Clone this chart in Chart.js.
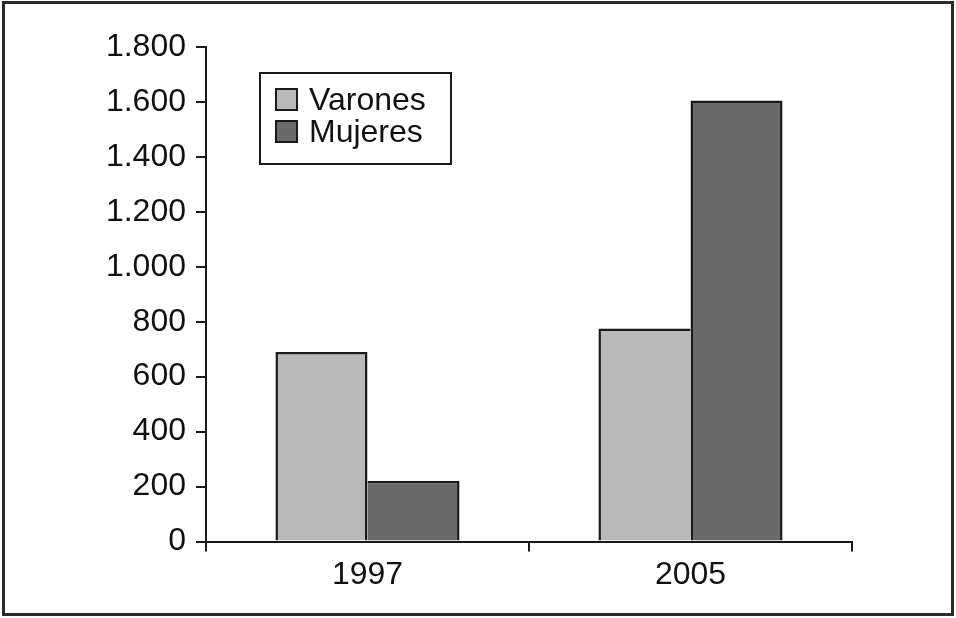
<!DOCTYPE html>
<html>
<head>
<meta charset="utf-8">
<script src="https://cdn.jsdelivr.net/npm/chart.js@4.4.0/dist/chart.umd.min.js"></script>
<style>
    html, body { margin: 0; padding: 0; background: #fff; }
    #wrap { width: 956px; height: 618px; position: relative; }
</style>
</head>
<body>
<div id="wrap"><canvas id="grafico"></canvas></div>
<script>
// datos
const anios = ['1997', '2005'];
const varones = [690, 775];
const mujeres = [220, 1605];
const ejeMax = 1800;
const ejePaso = 200;

const FUENTE = '"Liberation Sans", Arial, sans-serif';
const colores = {
    varones: '#b9b9b9',
    mujeres: '#6a6a6a',
    linea: '#1a1a1a'
};
const GROSOR = 2.5;

function miles(v) {
    return String(v).replace(/\B(?=(\d{3})+(?!\d))/g, '.');
}

// las barras vecinas comparten un solo borde: lo dibuja la mas alta
function bordeVarones(c) {
    const i = c.dataIndex;
    const propio = varones[i] >= mujeres[i];
    return { top: GROSOR, left: GROSOR, right: propio ? GROSOR : 0, bottom: 0 };
}
function bordeMujeres(c) {
    const i = c.dataIndex;
    const propio = mujeres[i] > varones[i];
    return { top: GROSOR, left: propio ? GROSOR : 0, right: GROSOR, bottom: 0 };
}

// marco exterior y leyenda dibujada a mano
const marcoYLeyenda = {
    id: 'marcoYLeyenda',
    afterDraw(chart) {
        const ctx = chart.ctx;
        ctx.save();
        ctx.strokeStyle = '#2a2a2a';
        ctx.lineWidth = 3;
        ctx.strokeRect(3.5, 2.5, 949, 612);

        ctx.lineWidth = 2;
        ctx.strokeStyle = colores.linea;
        ctx.strokeRect(260, 73, 191, 91);

        ctx.font = '32px ' + FUENTE;
        ctx.textBaseline = 'alphabetic';
        chart.data.datasets.forEach((ds, i) => {
            const y = 89 + i * 32;
            ctx.fillStyle = ds.backgroundColor;
            ctx.fillRect(276, y, 21, 21);
            ctx.lineWidth = 2;
            ctx.strokeRect(276, y, 21, 21);
            ctx.fillStyle = '#111';
            ctx.fillText(ds.label, 309, y + 21);
        });
        ctx.restore();
    }
};

const ctx = document.getElementById('grafico');
new Chart(ctx, {
    type: 'bar',
    data: {
        labels: anios,
        datasets: [{
            label: 'Varones',
            data: varones,
            backgroundColor: colores.varones,
            borderColor: colores.linea,
            borderWidth: bordeVarones,
            borderSkipped: false
        }, {
            label: 'Mujeres',
            data: mujeres,
            backgroundColor: colores.mujeres,
            borderColor: colores.linea,
            borderWidth: bordeMujeres,
            borderSkipped: false
        }]
    },
    options: {
        responsive: true,
        maintainAspectRatio: false,
        animation: false,
        layout: {
            padding: { left: 0, right: 104, top: 47, bottom: 0 }
        },
        datasets: {
            bar: { categoryPercentage: 0.57, barPercentage: 1 }
        },
        scales: {
            x: {
                grid: {
                    offset: true,
                    drawOnChartArea: false,
                    drawTicks: true,
                    tickLength: 10,
                    color: colores.linea,
                    lineWidth: 2
                },
                border: { display: true, color: colores.linea, width: 2 },
                ticks: {
                    color: '#111',
                    padding: 4,
                    font: { family: FUENTE, size: 32 }
                },
                afterFit(scale) { scale.height = 76.5; }
            },
            y: {
                min: 0,
                max: ejeMax,
                grid: {
                    drawOnChartArea: false,
                    drawTicks: true,
                    tickLength: 10,
                    color: colores.linea,
                    lineWidth: 2
                },
                border: { display: true, color: colores.linea, width: 2 },
                ticks: {
                    stepSize: ejePaso,
                    color: '#111',
                    padding: 10,
                    font: { family: FUENTE, size: 32 },
                    callback: (v) => miles(v)
                },
                afterFit(scale) { scale.width = 206; }
            }
        },
        plugins: {
            legend: { display: false },
            tooltip: { enabled: false },
            title: { display: false }
        }
    },
    plugins: [marcoYLeyenda]
});
</script>
</body>
</html>
